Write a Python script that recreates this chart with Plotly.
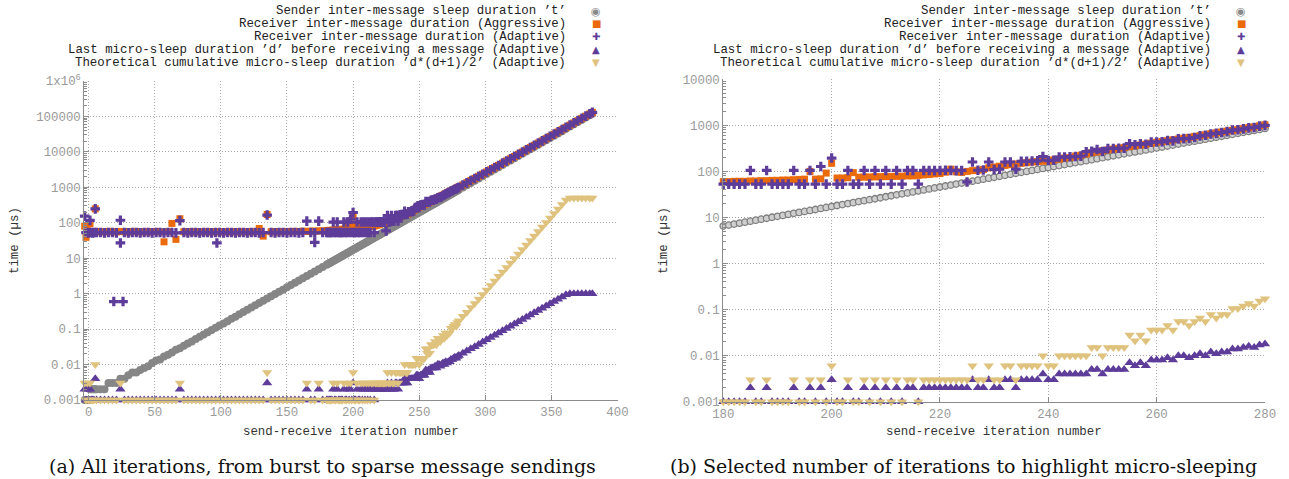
import plotly.graph_objects as go

# ---------------- data ----------------
# iteration numbers: burst part (left panel only), zoomed part (both panels), sparse part
ITER_BURST = [-3, -2, -1, 0, 1, 2, 3, 4, 5, 6] + list(range(9, 178, 3))
ITER_ZOOM = list(range(180, 281))
ITER_SPARSE = list(range(283, 380, 3)) + [381]

# Sender inter-message sleep duration 't' (us)
SENDER_BURST = [0.001, 0.001, 0.001, 0.001, 0.002, 0.002, 0.002, 0.002, 0.002, 0.002,
                0.002, 0.002, 0.003, 0.003, 0.003, 0.004, 0.004, 0.005, 0.006, 0.006,
                0.007, 0.008, 0.009, 0.011, 0.013, 0.014, 0.017, 0.019, 0.022, 0.026,
                0.029, 0.034, 0.039, 0.045, 0.053, 0.061, 0.070, 0.081, 0.094, 0.109,
                0.126, 0.145, 0.168, 0.195, 0.225, 0.261, 0.302, 0.349, 0.404, 0.468,
                0.542, 0.627, 0.726, 0.840, 0.973, 1.13, 1.30, 1.51, 1.75, 2.02,
                2.34, 2.71, 3.14, 3.63, 4.20, 4.86, 5.63]
SENDER_ZOOM = [6.52, 6.84, 7.19, 7.54, 7.92, 8.32, 8.73, 9.17, 9.63, 10.1,
               10.6, 11.1, 11.7, 12.3, 12.9, 13.5, 14.2, 14.9, 15.7, 16.5,
               17.3, 18.2, 19.1, 20.0, 21.0, 22.1, 23.2, 24.3, 25.5, 26.8,
               28.2, 29.6, 31.1, 32.6, 34.2, 35.9, 37.8, 39.6, 41.6, 43.7,
               45.9, 48.2, 50.6, 53.1, 55.8, 58.6, 61.5, 64.6, 67.8, 71.2,
               74.7, 78.5, 82.4, 86.5, 90.8, 95.4, 100.1, 105.2, 110.4, 115.9,
               121.7, 127.8, 134.2, 140.9, 148.0, 155.4, 163.1, 171.3, 179.8, 188.8,
               198.3, 208.2, 218.6, 229.5, 241.0, 253.1, 265.7, 279.0, 292.9, 307.6,
               323.0, 339.1, 356.1, 373.9, 392.6, 412.2, 432.8, 454.5, 477.2, 501.1,
               526.1, 552.4, 580.0, 609.0, 639.5, 671.5, 705.0, 740.3, 777.3, 816.2,
               857.0]
SENDER_SPARSE = [992, 1149, 1330, 1539, 1782, 2063, 2388, 2764, 3200, 3704,
                 4288, 4964, 5746, 6652, 7700, 8914, 10319, 11945, 13829, 16008,
                 18531, 21452, 24833, 28749, 33279, 38525, 44598, 51627, 59766, 69185,
                 80090, 92715, 107326, 118327]

# Receiver inter-message duration, Aggressive (us)
AGGR_BURST = [80, 39, 60, 57, 95, 56, 55, 57, 247, 56,
              56, 55, 57, 56, 55, 57, 56, 55, 56, 57,
              55, 56, 55, 56, 57, 55, 29, 56, 96, 34,
              130, 56, 55, 56, 55, 56, 55, 56, 55, 56,
              55, 56, 55, 56, 55, 56, 55, 56, 55, 56,
              69, 42, 171, 56, 55, 56, 56, 57, 56, 57,
              57, 58, 57, 58, 58, 59, 59]
AGGR_ZOOM = [60, 60, 61, 61, 61, 62, 62, 63, 63, 64,
             64, 65, 65, 66, 67, 68, 100, 68, 69, 92,
             150, 72, 72, 73, 94, 75, 75, 76, 76, 77,
             77, 78, 78, 79, 80, 80, 82, 84, 86, 88,
             90, 96, 112, 98, 95, 100, 104, 106, 110, 120,
             125, 130, 135, 140, 145, 150, 155, 160, 163, 166,
             170, 178, 185, 195, 200, 215, 225, 240, 255, 265,
             280, 292, 305, 318, 330, 345, 360, 375, 390, 410,
             430, 445, 465, 485, 505, 525, 550, 575, 600, 625,
             660, 690, 720, 750, 780, 810, 850, 890, 930, 980,
             1030]
AGGR_SPARSE = [1170, 1350, 1550, 1780, 2050, 2360, 2720, 3130, 3610, 4160,
               4800, 5540, 6400, 7400, 8550, 9880, 11430, 13220, 15290, 17690,
               20470, 23690, 27410, 31720, 36710, 42480, 49170, 56900, 65860, 76220,
               88230, 102100, 118200, 130300]

# Receiver inter-message duration, Adaptive (us)
ADAPT_BURST = [154, 53, 53, 52, 117, 53, 52, 53, 247, 53,
               53, 52, 53, 53, 52, 118, 53, 52, 53, 53,
               52, 53, 53, 52, 53, 53, 52, 53, 53, 52,
               115, 53, 52, 53, 53, 52, 53, 53, 52, 53,
               53, 52, 53, 53, 52, 53, 53, 52, 53, 53,
               52, 53, 165, 53, 52, 53, 53, 52, 53, 53,
               52, 53, 111, 53, 52, 111, 53]
ADAPT_ZOOM = [53, 53, 53, 53, 53, 105, 53, 53, 105, 53,
              53, 53, 53, 105, 53, 53, 105, 53, 128, 53,
              195, 53, 53, 105, 53, 53, 105, 53, 105, 53,
              105, 53, 105, 53, 105, 105, 53, 105, 105, 104,
              105, 106, 105, 104, 105, 59, 160, 106, 107, 160,
              110, 112, 160, 160, 112, 165, 165, 168, 170, 210,
              172, 175, 205, 205, 208, 210, 215, 268, 275, 300,
              270, 315, 315, 318, 320, 400, 380, 400, 390, 432,
              435, 440, 470, 460, 510, 515, 520, 545, 590, 610,
              650, 670, 700, 730, 790, 800, 840, 880, 900, 960,
              1000]
ADAPT_SPARSE = [1160, 1340, 1560, 1770, 2060, 2350, 2730, 3120, 3620, 4150,
                4810, 5530, 6410, 7390, 8560, 9870, 11450, 13200, 15310, 17680,
                20490, 23670, 27440, 31700, 36740, 42450, 49200, 56880, 65900, 76200,
                88260, 102000, 118300, 130200]
ADAPT_EXTRA_ITER = [19, 24, 26, 97, 171]
ADAPT_EXTRA = [0.6, 27, 0.6, 27, 28]

# Last micro-sleep duration 'd' before receiving a message (ns)
D_NS_BURST = [2, 1, 2, 1, 2, 1, 1, 1, 4, 1,
              1, 1, 1, 1, 1, 2, 1, 1, 1, 1,
              1, 1, 1, 1, 1, 1, 1, 1, 1, 1,
              2, 1, 1, 1, 1, 1, 1, 1, 1, 1,
              1, 1, 1, 1, 1, 1, 1, 1, 1, 1,
              1, 1, 3, 1, 1, 1, 1, 1, 1, 1,
              1, 1, 2, 1, 1, 2, 1]
D_NS_ZOOM = [1, 1, 1, 1, 1, 2, 1, 1, 2, 1,
             1, 1, 1, 2, 1, 1, 2, 1, 2, 1,
             3, 1, 1, 2, 1, 1, 2, 1, 2, 1,
             2, 1, 2, 1, 2, 2, 1, 2, 2, 2,
             2, 2, 2, 2, 2, 2, 3, 2, 2, 3,
             2, 2, 3, 3, 2, 3, 3, 3, 3, 4,
             3, 3, 4, 4, 4, 4, 4, 4, 5, 5,
             4, 5, 5, 5, 5, 7, 6, 7, 6, 8,
             8, 8, 9, 8, 10, 10, 9, 10, 11, 10,
             12, 11, 12, 12, 14, 14, 15, 16, 15, 17,
             18]
D_NS_SPARSE = [21, 24, 28, 32, 37, 43, 50, 58, 67, 78,
               90, 104, 121, 140, 162, 187, 217, 251, 291, 337,
               390, 451, 522, 605, 700, 810, 938, 1000, 1000, 1000,
               1000, 1000, 1000, 1000]

# Theoretical cumulative micro-sleep duration 'd*(d+1)/2' (ns)
THEO_NS_BURST = [3, 1, 3, 1, 3, 1, 1, 1, 10, 1,
                 1, 1, 1, 1, 1, 3, 1, 1, 1, 1,
                 1, 1, 1, 1, 1, 1, 1, 1, 1, 1,
                 3, 1, 1, 1, 1, 1, 1, 1, 1, 1,
                 1, 1, 1, 1, 1, 1, 1, 1, 1, 1,
                 1, 1, 6, 1, 1, 1, 1, 1, 1, 1,
                 1, 1, 3, 1, 1, 3, 1]
THEO_NS_ZOOM = [1, 1, 1, 1, 1, 3, 1, 1, 3, 1,
                1, 1, 1, 3, 1, 1, 3, 1, 3, 1,
                6, 1, 1, 3, 1, 1, 3, 1, 3, 1,
                3, 1, 3, 1, 3, 3, 1, 3, 3, 3,
                3, 3, 3, 3, 3, 3, 6, 3, 3, 6,
                3, 3, 6, 6, 3, 6, 6, 6, 6, 10,
                6, 6, 10, 10, 10, 10, 10, 10, 15, 15,
                10, 15, 15, 15, 15, 28, 21, 28, 21, 36,
                36, 36, 45, 36, 55, 55, 45, 55, 66, 55,
                78, 66, 78, 78, 105, 105, 120, 136, 120, 153,
                171]
THEO_NS_SPARSE = [231, 300, 406, 528, 703, 946, 1275, 1711, 2278, 3081,
                  4095, 5460, 7381, 9870, 13203, 17578, 23653, 31626, 42486, 56953,
                  76245, 101926, 136503, 183315, 245350, 328455, 440391, 500500, 500500, 500500,
                  500500, 500500, 500500, 500500]

LEGEND_LABELS = [
    "Sender inter-message sleep duration \u2019t\u2019",
    "Receiver inter-message duration (Aggressive)",
    "Receiver inter-message duration (Adaptive)",
    "Last micro-sleep duration \u2019d\u2019 before receiving a message (Adaptive)",
    "Theoretical cumulative micro-sleep duration \u2019d*(d+1)/2\u2019 (Adaptive)",
]
CAPTIONS = ["(a) All iterations, from burst to sparse message sendings",
            "(b) Selected number of iterations to highlight micro-sleeping"]
X_TITLE = "send-receive iteration number"
Y_TITLE = "time (\u00b5s)"
LEFT_YTICKS = [1e-3, 1e-2, 1e-1, 1, 10, 100, 1000, 1e4, 1e5, 1e6]
LEFT_YTEXT = ["0.001", "0.01", "0.1", "1", "10", "100", "1000", "10000", "100000", "1x10<sup>6</sup>"]
RIGHT_YTICKS = [1e-3, 1e-2, 1e-1, 1, 10, 100, 1000, 1e4]
RIGHT_YTEXT = ["0.001", "0.01", "0.1", "1", "10", "100", "1000", "10000"]
LEFT_XTICKS = [0, 50, 100, 150, 200, 250, 300, 350, 400]
RIGHT_XTICKS = [180, 200, 220, 240, 260, 280]

# ---------------- assemble ----------------
ITER = ITER_BURST + ITER_ZOOM + ITER_SPARSE
SENDER = SENDER_BURST + SENDER_ZOOM + SENDER_SPARSE
AGGR = AGGR_BURST + AGGR_ZOOM + AGGR_SPARSE
ADAPT = ADAPT_BURST + ADAPT_ZOOM + ADAPT_SPARSE
D_US = [v / 1000 for v in D_NS_BURST + D_NS_ZOOM + D_NS_SPARSE]
THEO_US = [v / 1000 for v in THEO_NS_BURST + THEO_NS_ZOOM + THEO_NS_SPARSE]

W, H = 1289, 479
GRAY, ORANGE, PURPLE, TAN = "#868686", "#ea6a0c", "#5e3c99", "#dfc27d"
MONO = "Liberation Mono, DejaVu Sans Mono, monospace"
TICKFONT = dict(family=MONO, size=12.4, color="#9a9a9a")


def window(xs, ys, lo, hi):
    keep = [(x, y) for x, y in zip(xs, ys) if lo <= x <= hi]
    return [k[0] for k in keep], [k[1] for k in keep]


fig = go.Figure()


def add_panel(xa, ya, lo, hi, sender_style):
    sx, sy = window(ITER, SENDER, lo, hi)
    fig.add_trace(go.Scatter(x=sx, y=sy, mode="markers", xaxis=xa, yaxis=ya, cliponaxis=False,
                             marker=sender_style))
    ax_, ay_ = window(ITER, AGGR, lo, hi)
    fig.add_trace(go.Scatter(x=ax_, y=ay_, mode="markers", xaxis=xa, yaxis=ya, cliponaxis=False,
                             marker=dict(symbol="square", size=7, color=ORANGE, line=dict(width=0))))
    px_, py_ = window(ITER + ADAPT_EXTRA_ITER, ADAPT + ADAPT_EXTRA, lo, hi)
    fig.add_trace(go.Scatter(x=px_, y=py_, mode="markers", xaxis=xa, yaxis=ya, cliponaxis=False,
                             marker=dict(symbol="cross", size=8, color=PURPLE, line=dict(width=0))))
    dx, dy = window(ITER, D_US, lo, hi)
    fig.add_trace(go.Scatter(x=dx, y=dy, mode="markers", xaxis=xa, yaxis=ya, cliponaxis=False,
                             marker=dict(symbol="triangle-up", size=9, color=PURPLE, line=dict(width=0))))
    tx, ty = window(ITER, THEO_US, lo, hi)
    fig.add_trace(go.Scatter(x=tx, y=ty, mode="markers", xaxis=xa, yaxis=ya, cliponaxis=False,
                             marker=dict(symbol="triangle-down", size=9, color=TAN, line=dict(width=0))))


add_panel("x", "y", -10, 400, dict(symbol="circle", size=8, color=GRAY, line=dict(width=0)))
add_panel("x2", "y2", 180, 280, dict(symbol="circle", size=6.5, color="#cfcfcf",
                                      line=dict(width=1.3, color="#7f7f7f")))

# ---------------- axes ----------------
L_X0, L_X1, L_Y0, L_Y1 = 84.3, 617.5, 81.0, 400.0
R_X0, R_X1, R_Y0, R_Y1 = 723.3, 1265.0, 79.3, 401.7


def minor_vals(lo, hi):
    out = []
    for e in range(lo, hi):
        for m in range(2, 10):
            out.append(m * 10.0 ** e)
    return out


common_x = dict(showgrid=True, griddash="1px,2px", gridcolor="#a8a8a8", gridwidth=1,
                showline=True, linecolor="#8c8c8c", linewidth=1, zeroline=False,
                ticks="inside", ticklen=5, tickcolor="#8c8c8c", tickfont=TICKFONT,
                mirror=False, tickmode="array", automargin=False)
common_y = dict(common_x, type="log")

fig.update_layout(
    width=W, height=H, margin=dict(l=0, r=0, t=0, b=0, pad=0),
    paper_bgcolor="white", plot_bgcolor="white", showlegend=False,
    xaxis=dict(common_x, domain=[L_X0 / W, L_X1 / W], range=[-3.3, 400],
               tickvals=LEFT_XTICKS, anchor="y"),
    yaxis=dict(common_y, domain=[1 - L_Y1 / H, 1 - L_Y0 / H], range=[-3, 6],
               tickvals=LEFT_YTICKS, ticktext=LEFT_YTEXT, anchor="x",
               minor=dict(tickmode="array", tickvals=minor_vals(-3, 6), ticks="inside",
                          ticklen=3, tickcolor="#8c8c8c", showgrid=False)),
    xaxis2=dict(common_x, domain=[R_X0 / W, R_X1 / W], range=[180, 280],
                tickvals=RIGHT_XTICKS, anchor="y2"),
    yaxis2=dict(common_y, domain=[1 - R_Y1 / H, 1 - R_Y0 / H], range=[-3, 4],
                tickvals=RIGHT_YTICKS, ticktext=RIGHT_YTEXT, anchor="x2",
                minor=dict(tickmode="array", tickvals=minor_vals(-3, 4), ticks="inside",
                           ticklen=3, tickcolor="#8c8c8c", showgrid=False)),
)

# ---------------- text: legends, titles, captions ----------------
ann = []
LEG_GLYPHS = [("\u25c9", "#8a8a8a", 11), ("\u25a0", ORANGE, 10), ("\u271a", PURPLE, 10),
              ("\u25b2", PURPLE, 10), ("\u25bc", TAN, 10)]
for text_right, marker_x in [(568, 596), (1213, 1241)]:
    for i, label in enumerate(LEGEND_LABELS):
        ypx = 11 + 12.9 * i
        ann.append(dict(x=text_right / W, y=1 - ypx / H, xref="paper", yref="paper",
                        text=label, showarrow=False, xanchor="right", yanchor="middle",
                        font=dict(family=MONO, size=12.4, color="#222222")))
        g, c, s = LEG_GLYPHS[i]
        ann.append(dict(x=marker_x / W, y=1 - ypx / H, xref="paper", yref="paper",
                        text=g, showarrow=False, xanchor="center", yanchor="middle",
                        font=dict(family="DejaVu Sans", size=s, color=c)))

for cx, tx_ in [((L_X0 + L_X1) / 2, 15), ((R_X0 + R_X1) / 2, 664)]:
    ann.append(dict(x=cx / W, y=1 - 432 / H, xref="paper", yref="paper", text=X_TITLE,
                    showarrow=False, xanchor="center", yanchor="middle",
                    font=dict(family=MONO, size=12.4, color="#333333")))
    ann.append(dict(x=tx_ / W, y=1 - 241 / H, xref="paper", yref="paper", text=Y_TITLE,
                    showarrow=False, xanchor="center", yanchor="middle", textangle=-90,
                    font=dict(family=MONO, size=12.4, color="#333333")))

for cx, cap in zip([322, 963], CAPTIONS):
    ann.append(dict(x=cx / W, y=1 - 466 / H, xref="paper", yref="paper", text=cap,
                    showarrow=False, xanchor="center", yanchor="middle",
                    font=dict(family="DejaVu Serif", size=19, color="#111111")))

fig.update_layout(annotations=ann)
fig.write_html("out.html", config={"displayModeBar": False},
               post_script="document.body.style.margin='0px';")
